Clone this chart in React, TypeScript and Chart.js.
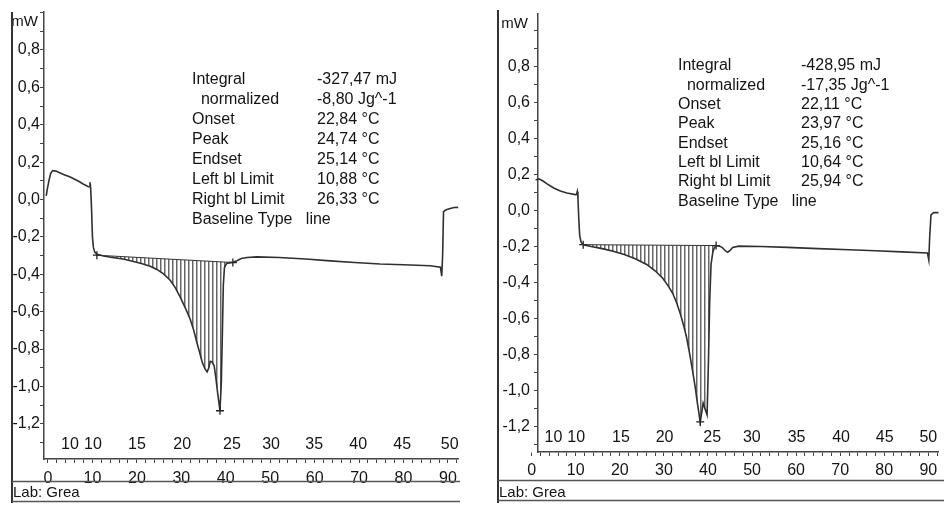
import React, { useEffect, useRef } from 'react';
import { Chart, registerables } from 'chart.js';

Chart.register(...registerables);

// ---------------- Left measurement ----------------
const leftTime = [
  -0.4, -0.2, 0.2, 0.6, 1.05, 1.8, 2.5, 3.5, 5.0, 6.0, 7.0, 8.0, 9.0, 9.3, 9.45, 9.6, 9.8, 10.0, 10.2, 10.5,
  11.0, 12.5, 14.5, 16.9, 19.0, 21.0, 23.0, 24.5, 26.0, 27.5, 28.6, 29.7, 31.0, 32.0, 32.8, 33.5, 34.2, 34.7,
  35.3, 35.8, 36.2, 36.5, 36.9, 37.4, 37.8, 38.2, 38.7, 39.0, 39.25, 39.45, 39.7, 40.2, 41.0, 41.6, 42.5, 43.5,
  44.8, 47.0, 52.0, 58.0, 63.5, 69.0, 74.7, 80.0, 86.0, 88.3, 88.6, 88.8, 89.0, 89.6, 90.5, 91.4, 92.3,
];
const leftPower = [
  0.02, 0.05, 0.1, 0.14, 0.155, 0.152, 0.145, 0.134, 0.12, 0.108, 0.096, 0.082, 0.07, 0.068, 0.092, 0.062, -0.05,
  -0.2, -0.255, -0.28, -0.293, -0.302, -0.31, -0.318, -0.33, -0.342, -0.357, -0.374, -0.398, -0.432, -0.47, -0.52,
  -0.585, -0.64, -0.7, -0.765, -0.825, -0.87, -0.905, -0.922, -0.9, -0.866, -0.868, -0.89, -0.96, -1.04, -1.13,
  -0.98, -0.7, -0.46, -0.365, -0.342, -0.338, -0.336, -0.328, -0.316, -0.31, -0.307, -0.31, -0.318, -0.328,
  -0.337, -0.345, -0.349, -0.354, -0.362, -0.41, -0.3, -0.065, -0.055, -0.048, -0.043, -0.042,
];
const leftBaselineTime = [11.0, 41.6];
const leftBaselinePower = [-0.298, -0.337];
const leftPeakTime = [38.7];
const leftPeakPower = [-1.13];
const leftTempLabels = ['10', '10', '15', '20', '25', '30', '35', '40', '45', '50'];
const leftTempTimes = [4.95, 10.1, 20.0, 30.2, 41.4, 50.2, 59.9, 69.8, 79.7, 90.4];
const leftResultNames = ['Integral', '  normalized', 'Onset', 'Peak', 'Endset', 'Left bl Limit', 'Right bl Limit', 'Baseline Type   line'];
const leftResultValues = ['-327,47 mJ', '-8,80 Jg^-1', '22,84 °C', '24,74 °C', '25,14 °C', '10,88 °C', '26,33 °C', ''];

// ---------------- Right measurement ----------------
const rightTime = [
  0.3, 0.5, 0.9, 1.6, 2.5, 3.5, 5.0, 6.5, 8.0, 9.9, 10.2, 10.35, 10.5, 10.7, 10.9, 11.2, 11.7, 13.5, 16.0, 18.5,
  21.0, 23.5, 26.1, 28.0, 29.7, 31.0, 32.0, 33.0, 33.8, 34.5, 35.1, 35.8, 36.5, 37.1, 37.6, 38.25, 38.6, 38.9,
  39.3, 39.8, 40.1, 40.4, 40.7, 41.1, 41.4, 41.85, 42.5, 43.2, 44.0, 44.5, 45.0, 45.6, 47.0, 52.0, 58.0, 65.0,
  72.0, 78.0, 84.0, 89.8, 90.1, 90.3, 90.6, 91.2, 92.3,
];
const rightPower = [
  0.09, 0.14, 0.17, 0.176, 0.165, 0.148, 0.125, 0.108, 0.097, 0.088, 0.09, 0.105, 0.07, -0.05, -0.14, -0.175,
  -0.19, -0.2, -0.212, -0.226, -0.245, -0.268, -0.3, -0.335, -0.375, -0.42, -0.46, -0.52, -0.58, -0.64, -0.7,
  -0.79, -0.89, -0.98, -1.07, -1.175, -1.12, -1.07, -1.1, -1.135, -0.85, -0.5, -0.3, -0.232, -0.21, -0.195,
  -0.198, -0.205, -0.225, -0.232, -0.222, -0.205, -0.198, -0.2, -0.205, -0.212, -0.218, -0.224, -0.23, -0.236,
  -0.275, -0.15, -0.025, -0.012, -0.012,
];
const rightBaselineTime = [11.7, 41.85];
const rightBaselinePower = [-0.19, -0.195];
const rightPeakTime = [38.25];
const rightPeakPower = [-1.175];
const rightTempLabels = ['10', '10', '15', '20', '25', '30', '35', '40', '45', '50'];
const rightTempTimes = [4.95, 10.1, 20.25, 30.15, 40.95, 49.95, 60.1, 70.2, 80.1, 90.0];
const rightResultNames = ['Integral', '  normalized', 'Onset', 'Peak', 'Endset', 'Left bl Limit', 'Right bl Limit', 'Baseline Type   line'];
const rightResultValues = ['-428,95 mJ', '-17,35 Jg^-1', '22,11 °C', '23,97 °C', '25,16 °C', '10,64 °C', '25,94 °C', ''];

const yUnit = 'mW';
const labText = 'Lab: Grea';

const FONT = '"Liberation Sans", Arial, Helvetica, sans-serif';
const TEXT = '#141414';
const AXIS = '#444';

type Layout = {
  left: number; width: number; padTop: number; padRight: number; yWidth: number; xHeight: number;
  yLabelPad: number; xLabelPad: number; xMin: number; xMax: number; yMin: number; yMax: number; zeroTick: boolean;
  frameX: number; frameTop: number; frameRight: number; line1Y: number; line2Y: number;
  nameX: number; valueX: number; resY: number; resStep: number; unitRight: number; unitY: number; tempDy: number;
};

type PanelProps = {
  times: number[]; power: number[]; blTimes: number[]; blPower: number[];
  peakTimes: number[]; peakPower: number[]; tempLabels: string[]; tempTimes: number[];
  names: string[]; values: string[]; L: Layout;
};

const leftLayout: Layout = {
  left: 0, width: 472, padTop: 12, padRight: 14, yWidth: 44, xHeight: 48, yLabelPad: 0, xLabelPad: 6,
  xMin: -0.9, xMax: 92.26, yMin: -1.388, yMax: 1.003, zeroTick: false,
  frameX: 12, frameTop: 12, frameRight: 460, line1Y: 481.5, line2Y: 501.5,
  nameX: 192, valueX: 317, resY: 80, resStep: 20, unitRight: 38, unitY: 22, tempDy: 14,
};
const rightLayout: Layout = {
  left: 472, width: 472, padTop: 10, padRight: 2, yWidth: 66, xHeight: 55, yLabelPad: 4, xLabelPad: 5,
  xMin: 1.44, xMax: 92.35, yMin: -1.342, yMax: 1.094, zeroTick: true,
  frameX: 26, frameTop: 10, frameRight: 472, line1Y: 480.5, line2Y: 500.5,
  nameX: 206, valueX: 329, resY: 66, resStep: 19.3, unitRight: 56, unitY: 24, tempDy: 14,
};

function DscPanel(p: PanelProps) {
  const ref = useRef<HTMLCanvasElement>(null);
  useEffect(() => {
    const canvas = ref.current as HTMLCanvasElement;
    const L = p.L;
    const pc = document.createElement('canvas');
    pc.width = 4; pc.height = 1;
    const pctx = pc.getContext('2d') as CanvasRenderingContext2D;
    pctx.fillStyle = '#666';
    pctx.fillRect(0, 0, 1, 1);
    pctx.fillStyle = '#b4b4b4';
    pctx.fillRect(1, 0, 1, 1);
    const pattern = (canvas.getContext('2d') as CanvasRenderingContext2D).createPattern(pc, 'repeat');

    const curve = p.times.map((t, i) => ({ x: t, y: p.power[i] }));
    const seg = curve.filter((pt) => pt.x >= p.blTimes[0] && pt.x <= p.blTimes[1]);
    const base = p.blTimes.map((t, i) => ({ x: t, y: p.blPower[i] }));
    const peak = p.peakTimes.map((t, i) => ({ x: t, y: p.peakPower[i] }));

    const deco = {
      id: 'deco',
      afterDraw(chart: any) {
        const ctx = chart.ctx as CanvasRenderingContext2D;
        const area = chart.chartArea;
        const xs = chart.scales.x;
        ctx.save();
        ctx.fillStyle = TEXT;
        ctx.font = `16px ${FONT}`;
        ctx.textAlign = 'center';
        ctx.textBaseline = 'middle';
        p.tempLabels.forEach((lab, i) => {
          ctx.fillText(lab, xs.getPixelForValue(p.tempTimes[i]), area.bottom - L.tempDy);
        });
        ctx.font = `15px ${FONT}`;
        ctx.textAlign = 'right';
        ctx.fillText(yUnit, L.unitRight, L.unitY);
        ctx.font = `16px ${FONT}`;
        ctx.textAlign = 'left';
        p.names.forEach((n, i) => {
          const y = L.resY + i * L.resStep;
          ctx.fillText(n, L.nameX, y);
          if (p.values[i]) ctx.fillText(p.values[i], L.valueX, y);
        });
        ctx.strokeStyle = '#333';
        ctx.lineWidth = 2;
        ctx.beginPath();
        ctx.moveTo(L.frameX, L.frameTop);
        ctx.lineTo(L.frameX, 503);
        ctx.stroke();
        ctx.lineWidth = 1.5;
        ctx.strokeStyle = '#555';
        ctx.beginPath();
        ctx.moveTo(L.frameX, L.line1Y);
        ctx.lineTo(L.frameRight, L.line1Y);
        ctx.moveTo(L.frameX, L.line2Y);
        ctx.lineTo(L.frameRight, L.line2Y);
        ctx.stroke();
        ctx.font = `15px ${FONT}`;
        ctx.fillText(labText, L.frameX + 1, 493);
        ctx.restore();
      },
    };

    const chart = new Chart(canvas, {
      type: 'line',
      data: {
        datasets: [
          {
            label: 'hatch', data: seg, fill: 1, backgroundColor: pattern as any,
            borderColor: 'rgba(0,0,0,0)', borderWidth: 1, pointRadius: 0, order: 5,
          },
          {
            label: 'baseline', data: base, fill: false, borderColor: '#333', borderWidth: 1,
            pointStyle: 'cross', pointRadius: 4, pointBorderColor: '#222', pointBorderWidth: 1.3, order: 2,
          },
          {
            label: 'curve', data: curve, fill: false, borderColor: '#303030', borderWidth: 1.6,
            pointRadius: 0, tension: 0, clip: false as any, order: 1,
          },
          {
            label: 'peak', data: peak, showLine: false, pointStyle: 'cross', pointRadius: 4,
            pointBorderColor: '#222', pointBorderWidth: 1.3, order: 0,
          },
        ],
      },
      options: {
        responsive: false,
        animation: false,
        events: [],
        layout: { padding: { left: 0, top: L.padTop, right: L.padRight, bottom: 0 } },
        plugins: { legend: { display: false }, tooltip: { enabled: false } },
        scales: {
          x: {
            type: 'linear', min: L.xMin, max: L.xMax,
            border: { display: true, color: AXIS, width: 1.5 },
            grid: { drawOnChartArea: false, drawTicks: true, tickLength: 4, color: AXIS },
            ticks: {
              stepSize: 2, autoSkip: false, includeBounds: false, maxRotation: 0, padding: L.xLabelPad, color: TEXT,
              font: { family: FONT, size: 16 },
              callback: (v: any) => {
                const n = Number(v);
                return Math.abs(n - Math.round(n / 10) * 10) < 1e-6 ? String(Math.round(n)) : '';
              },
            },
            afterBuildTicks: (s: any) => {
              if (L.zeroTick) s.ticks.unshift({ value: 0 });
            },
            afterFit: (s: any) => { s.height = L.xHeight; },
          },
          y: {
            type: 'linear', min: L.yMin, max: L.yMax,
            border: { display: true, color: AXIS, width: 1.5 },
            grid: { drawOnChartArea: false, drawTicks: true, tickLength: 4, color: AXIS },
            ticks: {
              stepSize: 0.1, autoSkip: false, includeBounds: false, padding: L.yLabelPad, color: TEXT,
              font: { family: FONT, size: 16 },
              callback: (v: any) => {
                const n = Number(v);
                const k = Math.round(n * 10);
                if (k % 2 !== 0 || n > 0.85) return '';
                return (k / 10).toFixed(1).replace('.', ',');
              },
            },
            afterFit: (s: any) => { s.width = L.yWidth; },
          },
        },
      },
      plugins: [deco],
    } as any);
    return () => chart.destroy();
  }, []);
  return (
    <canvas
      ref={ref}
      width={p.L.width}
      height={507}
      style={{ position: 'absolute', left: p.L.left, top: 0, width: p.L.width, height: 507, display: 'block' }}
    />
  );
}

export default function App() {
  return (
    <div style={{ position: 'absolute', left: 0, top: 0, width: 944, height: 507, background: '#fff', overflow: 'hidden' }}>
      <DscPanel
        times={leftTime} power={leftPower} blTimes={leftBaselineTime} blPower={leftBaselinePower}
        peakTimes={leftPeakTime} peakPower={leftPeakPower} tempLabels={leftTempLabels} tempTimes={leftTempTimes}
        names={leftResultNames} values={leftResultValues} L={leftLayout}
      />
      <DscPanel
        times={rightTime} power={rightPower} blTimes={rightBaselineTime} blPower={rightBaselinePower}
        peakTimes={rightPeakTime} peakPower={rightPeakPower} tempLabels={rightTempLabels} tempTimes={rightTempTimes}
        names={rightResultNames} values={rightResultValues} L={rightLayout}
      />
    </div>
  );
}
